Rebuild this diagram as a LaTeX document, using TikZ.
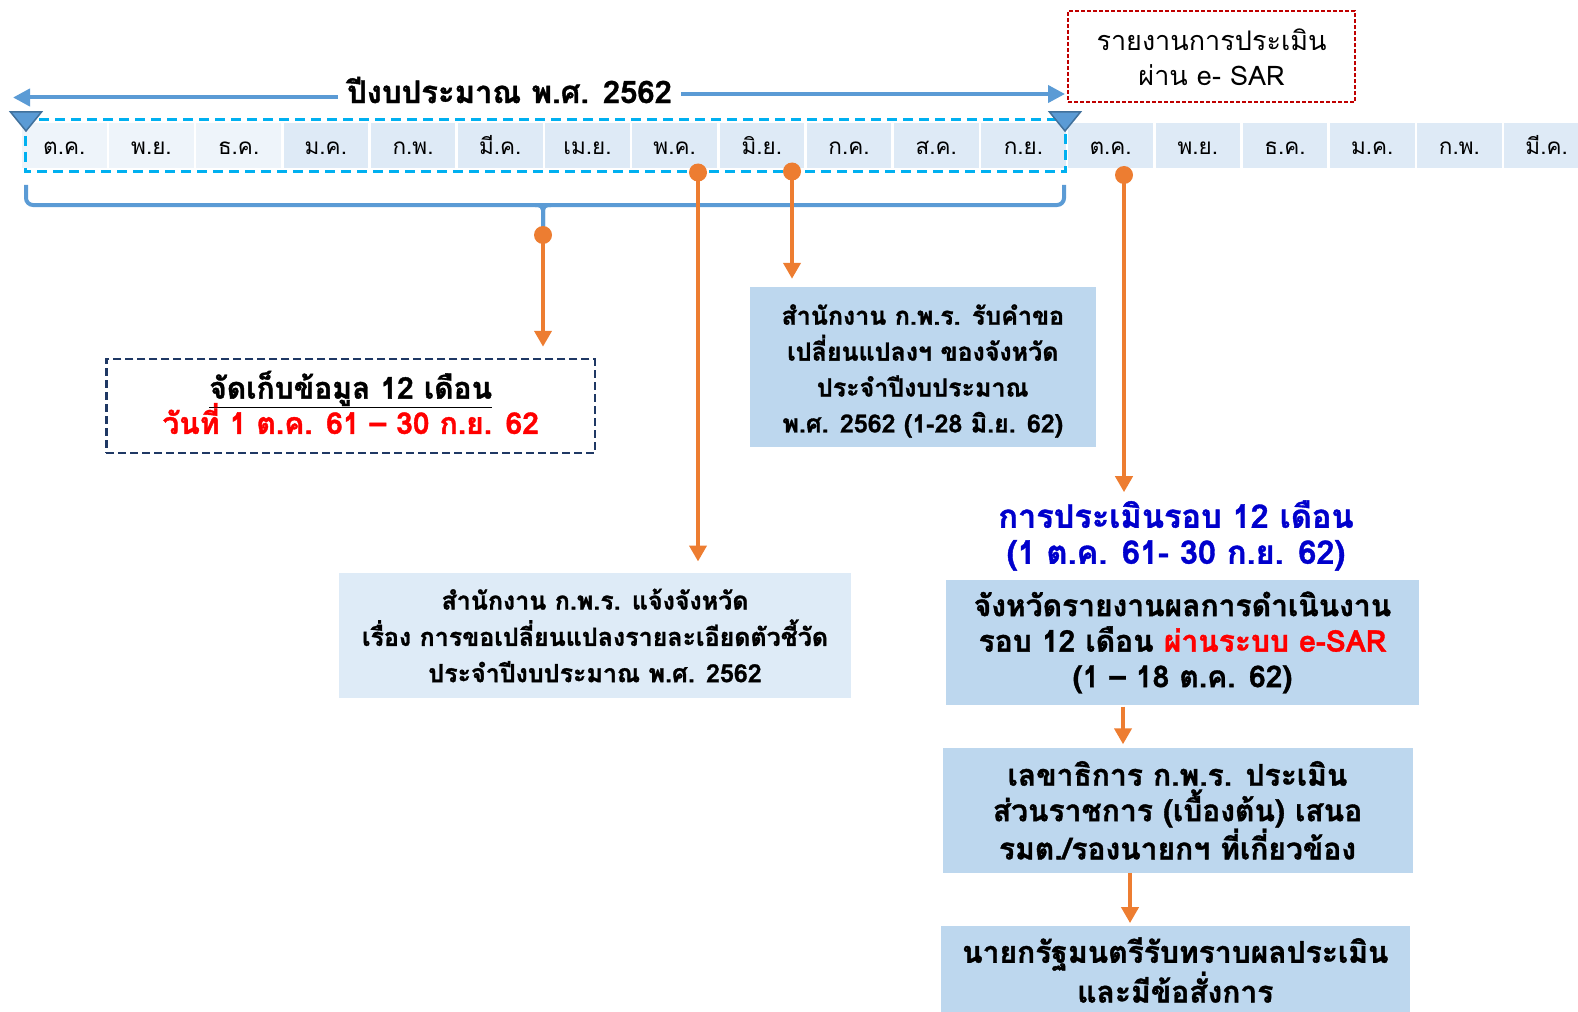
\documentclass[tikz,border=0pt]{standalone}
\usepackage{fontspec}
\setmainfont{Loma}[Script=Thai, BoldFeatures={FakeBold=1.2}]
\usetikzlibrary{arrows.meta,calc}
\definecolor{lineblue}{HTML}{5B9BD5}
\definecolor{tridark}{HTML}{41719C}
\definecolor{celllight}{HTML}{EEF4FA}
\definecolor{celldark}{HTML}{DEEAF6}
\definecolor{dashcyan}{HTML}{00B0F0}
\definecolor{orng}{HTML}{ED7D31}
\definecolor{boxblue}{HTML}{BDD7EE}
\definecolor{boxlight}{HTML}{DEEBF7}
\definecolor{navy}{HTML}{1F3864}
\definecolor{darkred}{HTML}{C00000}
\definecolor{brightred}{HTML}{FF0000}
\definecolor{titleblue}{HTML}{0000CC}
\begin{document}
\begin{tikzpicture}[x=1pt,y=-1pt,
  cell/.style={minimum width=84.5pt, minimum height=45.3pt, inner sep=0pt, text height=21pt, text depth=2pt, font=\fontsize{22.5}{24}\selectfont},
  bbox/.style={fill=boxblue, inner sep=0pt, align=center},
  odot/.style={circle, fill=orng, inner sep=0pt, minimum size=18pt},
  oarrow/.style={draw=orng, line width=4.5pt, -{Triangle[width=17pt,length=16pt]}},
  barrow/.style={draw=lineblue, line width=4pt, -{Triangle[width=17pt,length=17pt]}},
  marker/.style={fill=lineblue, draw=tridark, line width=1.5pt, line join=miter},
]
\useasboundingbox (0,0) rectangle (1578,1011);
\clip (0,0) rectangle (1578,1011);

% month cells
\foreach \lab [count=\i from 0] in {ต.ค.,พ.ย.,ธ.ค.,ม.ค.,ก.พ.,มี.ค.,เม.ย.,พ.ค.,มิ.ย.,ก.ค.,ส.ค.,ก.ย.,ต.ค.,พ.ย.,ธ.ค.,ม.ค.,ก.พ.,มี.ค.}{
  \ifnum\i<3 \def\cc{celllight}\else\def\cc{celldark}\fi
  \node[cell, fill=\cc] (m\i) at ({22+87.2*\i+42.25},145.3) {\lab};
}

% fiscal-year dashed frame
\draw[dashcyan, line width=3pt, dash pattern=on 10pt off 6pt] (25,120) rectangle (1065,172);

% year title with arrows
\node[inner xsep=9pt, inner ysep=2pt, font=\bfseries\fontsize{31}{33}\selectfont] (yt) at (509.5,90) {ปีงบประมาณ พ.ศ. 2562};
\coordinate (lt) at (13,97.5);
\coordinate (rt) at (1065,94);
\draw[barrow] ([yshift=-7.5pt]yt.west) -- (lt);
\draw[barrow] ([yshift=-4pt]yt.east) -- (rt);

% markers
\coordinate (t1) at (26,131);
\coordinate (t2) at (1065,131);
\draw[marker] (t1) -- ++(-15.5,-19) -- ++(31,0) -- cycle;
\draw[marker] (t2) -- ++(-15.5,-19) -- ++(31,0) -- cycle;

% brace
\draw[lineblue, line width=4pt, rounded corners=7pt] (26,185) -- (26,205) -- (1064,205) -- (1064,185);
\draw[lineblue, line width=4pt, rounded corners=5pt] (535,205) -- (543,205) -- (543,227);
\draw[lineblue, line width=4pt, rounded corners=5pt] (551,205) -- (543,205) -- (543,227);

% report box (top right)
\node[draw=darkred, line width=2pt, dash pattern=on 4pt off 2pt, fill=white, align=center,
      minimum width=287pt, minimum height=91pt, inner sep=0pt,
      font=\fontsize{27}{35}\selectfont] (H) at (1211.5,57) {รายงานการประเมิน\\ผ่าน e- SAR};

% box A (frame and its text)
\node[draw=navy, line width=2.5pt, dash pattern=on 8pt off 4pt, fill=white,
      minimum width=488.5pt, minimum height=94pt, inner sep=0pt] (A) at (350.7,406) {};
\node[align=center, inner sep=0pt, font=\bfseries\fontsize{30}{35.7}\selectfont] (At) at (350.7,402.5)
      {\underline{จัดเก็บข้อมูล 12 เดือน}\\[-6pt]\textcolor{brightred}{วันที่ 1 ต.ค. 61 – 30 ก.ย. 62}};

% box B (frame and its text)
\node[bbox, minimum width=345.6pt, minimum height=160pt] (B) at (922.8,367) {};
\node[align=center, inner sep=0pt, font=\bfseries\fontsize{25}{35.9}\selectfont] (Bt) at (922.8,371)
      {สำนักงาน ก.พ.ร. รับคำขอ\\เปลี่ยนแปลงฯ ของจังหวัด\\ประจำปีงบประมาณ\\พ.ศ. 2562 (1-28 มิ.ย. 62)};

\node[bbox, fill=boxlight, minimum width=512pt, minimum height=124.4pt, font=\bfseries\fontsize{25}{36.3}\selectfont] (C) at (595,635.5)
      {สำนักงาน ก.พ.ร. แจ้งจังหวัด\\เรื่อง การขอเปลี่ยนแปลงรายละเอียดตัวชี้วัด\\ประจำปีงบประมาณ พ.ศ. 2562};

\node[align=center, inner sep=0pt, text=titleblue, font=\bfseries\fontsize{32.5}{36}\selectfont] (T) at (1176,535.5)
      {การประเมินรอบ 12 เดือน\\(1 ต.ค. 61- 30 ก.ย. 62)};

\node[bbox, minimum width=473pt, minimum height=125.7pt, font=\bfseries\fontsize{30}{35.5}\selectfont] (E) at (1182.5,642.5)
      {จังหวัดรายงานผลการดำเนินงาน\\รอบ 12 เดือน \textcolor{brightred}{ผ่านระบบ e-SAR}\\(1 – 18 ต.ค. 62)};

\node[bbox, minimum width=470pt, minimum height=125pt, font=\bfseries\fontsize{30}{35.5}\selectfont] (F) at (1177.5,810.3)
      {เลขาธิการ ก.พ.ร. ประเมิน\\ส่วนราชการ (เบื้องต้น) เสนอ\\รมต./รองนายกฯ ที่เกี่ยวข้อง};

\node[bbox, minimum width=469.4pt, minimum height=88pt, font=\bfseries\fontsize{30}{34}\selectfont] (G) at (1175.3,970)
      {นายกรัฐมนตรีรับทราบผลประเมิน\\และมีข้อสั่งการ};

% orange connectors
\node[odot] (d1) at (543,235) {};
\node[odot] (d2) at (698,172.5) {};
\node[odot] (d3) at (792,171.5) {};
\node[odot] (d4) at (1124,175) {};
\coordinate (a5) at (1123,0);
\coordinate (a6) at (1130,0);
\draw[oarrow, shorten >=11pt] (d1.center) -- (A.north -| d1);
\draw[oarrow, shorten >=11.6pt] (d2.center) -- (C.north -| d2);
\draw[oarrow, shorten >=8pt] (d3.center) -- (B.north -| d3);
\draw[oarrow, shorten >=8pt] (d4.center) -- (T.north -| d4);
\draw[oarrow, shorten <=1pt, shorten >=3.3pt] (E.south -| a5) -- (F.north -| a5);
\draw[oarrow, shorten >=2.7pt] (F.south -| a6) -- (G.north -| a6);
\end{tikzpicture}
\end{document}
